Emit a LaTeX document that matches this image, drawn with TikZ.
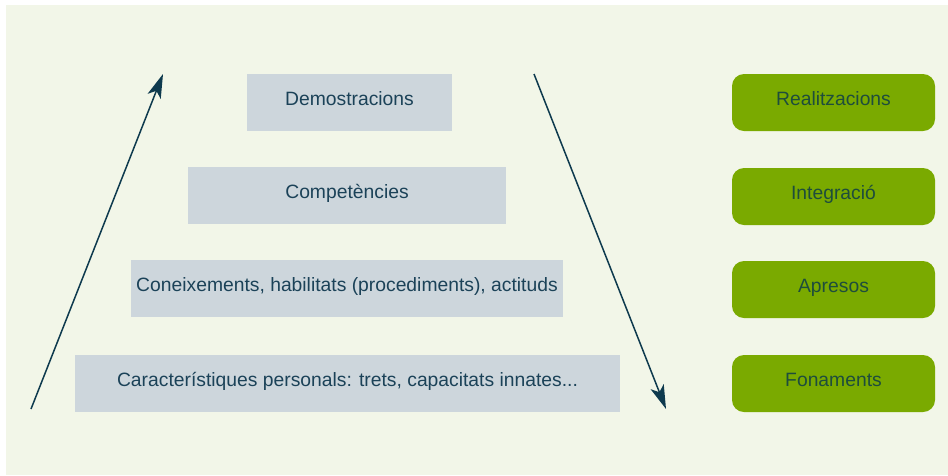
\documentclass[tikz,border=0pt]{standalone}
\usepackage{fontspec}
\setmainfont{Liberation Sans}
\usetikzlibrary{arrows.meta}
\definecolor{bgc}{HTML}{F2F6E8}
\definecolor{grayb}{HTML}{CDD6DC}
\definecolor{greenb}{HTML}{7AAA00}
\definecolor{txtb}{HTML}{1B4258}
\definecolor{txtg}{HTML}{1E4D3C}
\definecolor{arr}{HTML}{0E3A4E}
\begin{document}
\begin{tikzpicture}[x=1pt,y=-1pt,
  lvl/.style={fill=grayb, draw=none, inner sep=0pt, text=txtb, font=\fontsize{19.3}{23}\selectfont, text height=14pt, text depth=8pt},
  gbox/.style={fill=greenb, draw=none, rounded corners=12pt, inner sep=0pt, text=txtg, font=\fontsize{19.3}{23}\selectfont, text height=14pt, text depth=8pt, minimum width=203pt, minimum height=57pt},
  flow/.style={draw=arr, line width=1.5pt, -{Stealth[length=24pt,width=14pt,inset=6pt]}}]
\useasboundingbox (0,0) rectangle (948,475);
\fill[white] (0,0) rectangle (948,475);
\fill[bgc] (6,5) rectangle (948,475);
% pyramid levels
\node[lvl, minimum width=205pt, minimum height=57pt] (dem) at (349.5,102.5) {Demostracions};
\node[lvl, minimum width=318pt, minimum height=57pt] (com) at (347,195.5) {Competències};
\node[lvl, minimum width=432pt, minimum height=57pt] (con) at (347,288.5) {Coneixements, habilitats (procediments), actituds};
\node[lvl, minimum width=545pt, minimum height=57pt] (car) at (347.5,383.5) {Característiques personals: trets, capacitats innates...};
% green boxes
\node[gbox] (rea) at (833.5,102.5) {Realitzacions};
\node[gbox] (int) at (833.5,196.5) {Integració};
\node[gbox] (apr) at (833.5,289.5) {Apresos};
\node[gbox] (fon) at (833.5,383.5) {Fonaments};
% arrows
\coordinate (a1s) at (31,409);
\coordinate (a1e) at (163,74);
\coordinate (a2s) at (534,74);
\coordinate (a2e) at (666,409);
\draw[flow] (a1s) -- (a1e);
\draw[flow] (a2s) -- (a2e);
\end{tikzpicture}
\end{document}
